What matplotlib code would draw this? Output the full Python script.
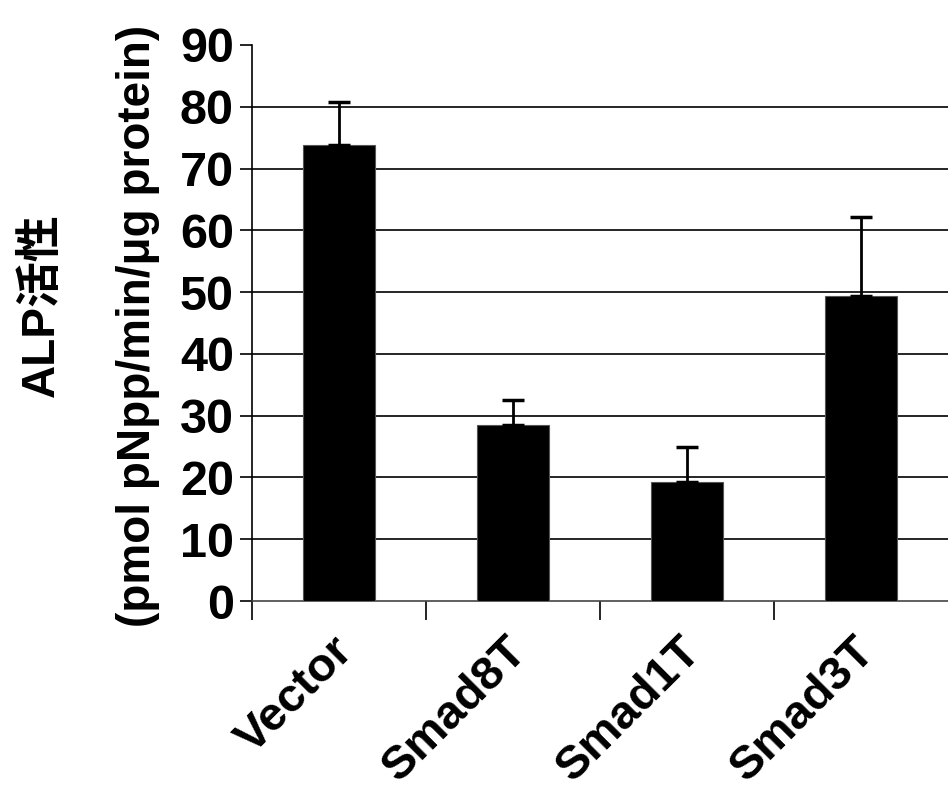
import numpy as np
import matplotlib
matplotlib.use('Agg')
import matplotlib.pyplot as plt

# 数据
categories = ['Vector', 'Smad8T', 'Smad1T', 'Smad3T']
alp_activity = [73.8, 28.5, 19.3, 49.4]
alp_error = [6.9, 4.0, 5.7, 12.8]
y_ticks = [0, 10, 20, 30, 40, 50, 60, 70, 80, 90]

plt.rcParams['font.family'] = ['Liberation Sans', 'Noto Sans CJK SC', 'DejaVu Sans']
plt.rcParams['font.weight'] = 'bold'

fig = plt.figure(figsize=(9.48, 7.88), dpi=100)
ax = fig.add_axes([0.2658, 0.2373, 0.7342, 0.7056])

x = np.arange(len(categories))
ax.bar(x, alp_activity, width=0.41, color='black', edgecolor='#555555', linewidth=0.8, zorder=3)
ax.errorbar(x, alp_activity, yerr=[np.zeros(len(x)), alp_error], fmt='none',
            ecolor='black', elinewidth=2, capsize=8, capthick=2.5, zorder=4)

# 网格线 (10-80)
for v in y_ticks[1:-1]:
    ax.axhline(v, color='black', linewidth=1.2, zorder=1)

ax.set_xlim(-0.5, 3.5)
ax.set_ylim(0, 90)
ax.set_yticks(y_ticks)
ax.set_yticklabels([str(v) for v in y_ticks], fontsize=35, fontweight='bold')
ax.tick_params(axis='y', length=9, width=1.2, pad=4)

ax.set_xticks(np.arange(-0.5, 3.5, 1.0))
ax.set_xticklabels([])
ax.tick_params(axis='x', length=14, width=1.2)
for i, name in enumerate(categories):
    ax.text(i + 0.04, -7.0, name, rotation=45, ha='right', va='center', rotation_mode='anchor',
            fontsize=34, fontweight='bold')

for s in ['top', 'right']:
    ax.spines[s].set_visible(False)
ax.spines['left'].set_linewidth(1.2)
ax.spines['bottom'].set_linewidth(1.2)
ax.spines['bottom'].set_color('#444444')

fig.text(0.044, 0.613, 'ALP活性', rotation=90, ha='center', va='center',
         fontsize=33, fontweight='bold')
fig.text(0.146, 0.587, '(pmol pNpp/min/μg protein)', rotation=90, ha='center', va='center',
         fontsize=33, fontweight='bold')

fig.savefig('out.png', dpi=100)
